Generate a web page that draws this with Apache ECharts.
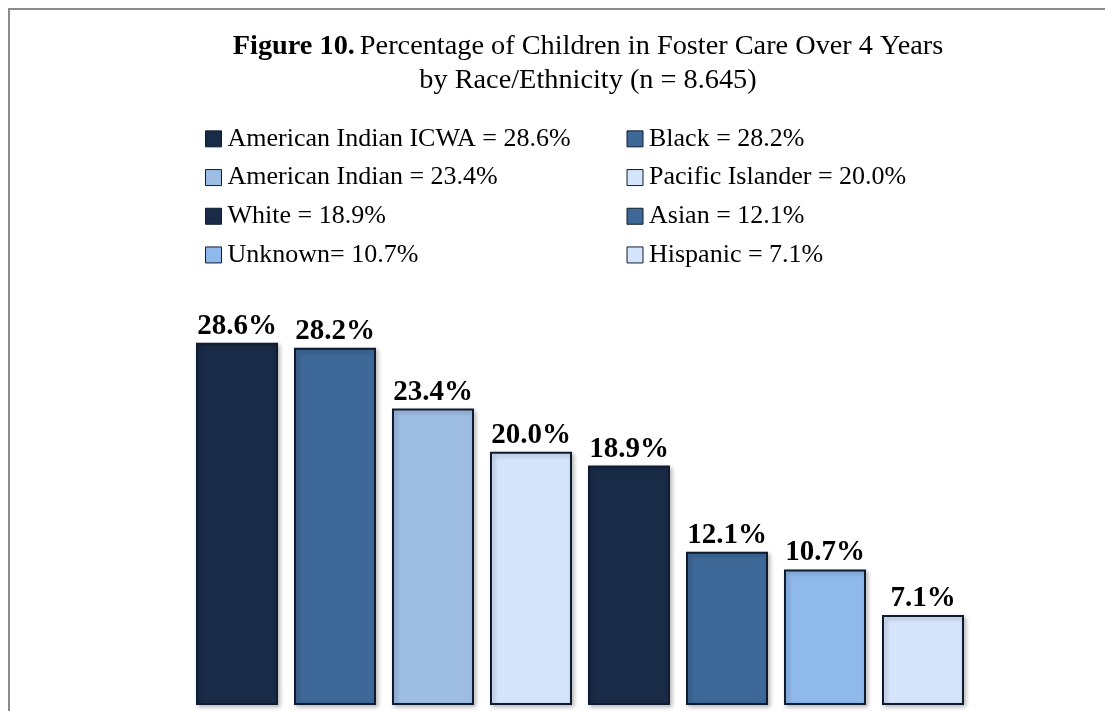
<!DOCTYPE html>
<html>
<head>
<meta charset="utf-8">
<script src="https://cdn.jsdelivr.net/npm/echarts@6/dist/echarts.min.js"></script>
<style>
  html, body { margin: 0; padding: 0; background: #fff; }
  #main { width: 1105px; height: 711px; }
</style>
</head>
<body>
<div id="main"></div>
<script>
// data
var categories = ['American Indian ICWA', 'Black', 'American Indian', 'Pacific Islander', 'White', 'Asian', 'Unknown', 'Hispanic'];
var values = [28.6, 28.2, 23.4, 20.0, 18.9, 12.1, 10.7, 7.1];
var legendNames = [
  'American Indian ICWA = 28.6%', 'Black = 28.2%',
  'American Indian = 23.4%', 'Pacific Islander = 20.0%',
  'White = 18.9%', 'Asian = 12.1%',
  'Unknown= 10.7%', 'Hispanic = 7.1%'
];

var barColors = ['#1a2b47', '#3e6898', '#9ebde3', '#d4e4fa', '#1a2b47', '#3e6898', '#8fb9ea', '#d4e4fa'];

var chartDom = document.getElementById('main');
var myChart = echarts.init(chartDom);
var option;

// one series per group, stacked so every bar sits on its own category
var series = categories.map(function (cat, i) {
  return {
    name: legendNames[i],
    type: 'bar',
    stack: 'all',
    barWidth: 82,
    data: values.map(function (v, j) { return j === i ? v : '-'; }),
    itemStyle: {
      color: barColors[i],
      borderColor: '#0f1c30',
      borderWidth: 2,
      shadowColor: 'rgba(0,0,0,0.25)',
      shadowBlur: 4,
      shadowOffsetX: 2,
      shadowOffsetY: 2
    },
    label: {
      show: true,
      position: 'top',
      distance: 2,
      fontFamily: 'Liberation Serif',
      fontWeight: 'bold',
      fontSize: 29,
      color: '#000',
      formatter: function (p) { return p.value.toFixed(1) + '%'; }
    }
  };
});

option = {
  backgroundColor: '#fff',
  animation: false,
  title: {
    left: 583,
    top: 25,
    textAlign: 'center',
    text: '{b|Figure 10.} {n|Percentage of Children in Foster Care Over 4 Years}\n{n|by Race/Ethnicity (n = 8.645)}',
    textStyle: {
      fontWeight: 'normal',
      rich: {
        b: { fontFamily: 'Liberation Serif', fontWeight: 'bold', fontSize: 28.3, color: '#000', lineHeight: 34 },
        n: { fontFamily: 'Liberation Serif', fontWeight: 'normal', fontSize: 28.3, color: '#000', lineHeight: 34 }
      }
    }
  },
  legend: {
    left: 205,
    top: 125,
    width: 880,
    padding: 0,
    icon: 'rect',
    itemWidth: 16,
    itemHeight: 16,
    itemGap: 11,
    selectedMode: false,
    itemStyle: { borderWidth: 1, shadowBlur: 0, shadowOffsetX: 0, shadowOffsetY: 0 },
    textStyle: {
      fontFamily: 'Liberation Serif',
      fontSize: 26,
      color: '#000',
      width: 388,
      lineHeight: 27.7,
      padding: [0, 0, 0, 1]
    },
    data: legendNames
  },
  graphic: [{
    type: 'rect',
    silent: true,
    shape: { x: 9, y: 9, width: 1300, height: 900 },
    style: { fill: null, stroke: '#8c8c8c', lineWidth: 2 }
  }],
  grid: {
    left: 188,
    right: 133,
    top: 325,
    bottom: 6
  },
  xAxis: {
    type: 'category',
    data: categories,
    show: false
  },
  yAxis: {
    type: 'value',
    min: 0,
    max: 30,
    show: false,
    splitLine: { show: false }
  },
  series: series
};

option && myChart.setOption(option);
</script>
</body>
</html>
